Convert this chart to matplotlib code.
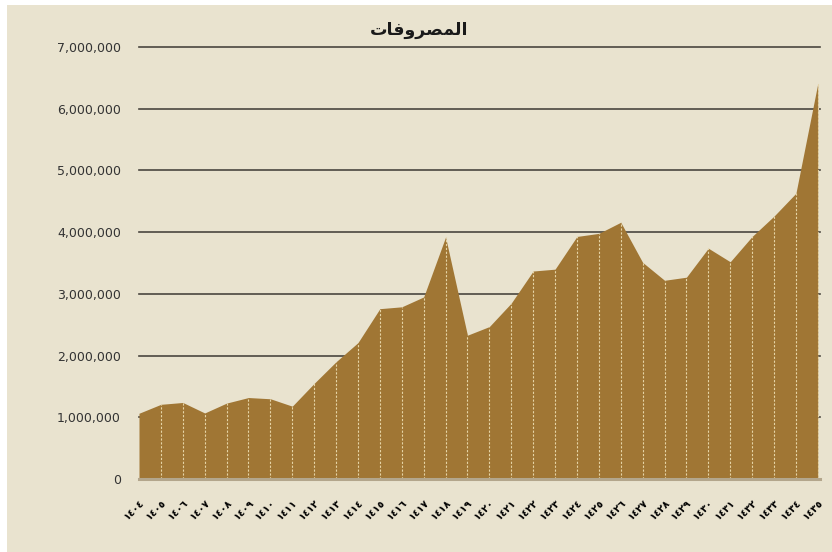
import matplotlib
matplotlib.use("Agg")
import matplotlib.pyplot as plt
from matplotlib.patches import Rectangle
from matplotlib.ticker import FuncFormatter

# years 1404..1435 (hijri), written in Arabic-Indic digits
years = list(range(1404, 1436))
year_labels = ["١٤٠٤", "١٤٠٥", "١٤٠٦", "١٤٠٧", "١٤٠٨", "١٤٠٩", "١٤١٠", "١٤١١",
               "١٤١٢", "١٤١٣", "١٤١٤", "١٤١٥", "١٤١٦", "١٤١٧", "١٤١٨", "١٤١٩",
               "١٤٢٠", "١٤٢١", "١٤٢٢", "١٤٢٣", "١٤٢٤", "١٤٢٥", "١٤٢٦", "١٤٢٧",
               "١٤٢٨", "١٤٢٩", "١٤٣٠", "١٤٣١", "١٤٣٢", "١٤٣٣", "١٤٣٤", "١٤٣٥"]
expenses = [1065000, 1210000, 1240000, 1070000, 1230000, 1320000, 1300000, 1180000,
            1550000, 1900000, 2210000, 2760000, 2790000, 2950000, 3920000, 2330000,
            2470000, 2850000, 3370000, 3400000, 3930000, 3980000, 4160000, 3510000,
            3220000, 3270000, 3740000, 3520000, 3930000, 4260000, 4630000, 6410000]
# "المصروفات" in presentation forms, visual order (matplotlib does no shaping)
title = "\uFE95\uFE8E\uFED3\uFEED\uFEAE\uFEBC\uFEE4\uFEDF\uFE8D"

bg = "#e9e3cf"
fill = "#a07634"

fig = plt.figure(figsize=(8.32, 5.52), dpi=100, facecolor="white")
fig.patches.append(Rectangle((7 / 832, 0), 1, 1 - 5 / 552, transform=fig.transFigure,
                             facecolor=bg, edgecolor="none", zorder=-10))

ax = fig.add_axes([139 / 832, 1 - 479 / 552, 681 / 832, 432 / 552])
ax.set_facecolor("none")

x = list(range(len(years)))
ax.fill_between(x, expenses, 0, color=fill, linewidth=0, zorder=2)
ax.vlines(x[1:], 0, expenses[1:], colors="#e6d4a6", linewidth=0.8,
          linestyles=(0, (2, 1.5)), zorder=3)

for v in range(1000000, 7000001, 1000000):
    ax.axhline(v, color="#4a463f", linewidth=1.2, zorder=1, clip_on=False)
ax.axhline(0, color="#b3a68c", linewidth=2.2, zorder=4, clip_on=False)

ax.set_xlim(0, 31.1)
ax.set_ylim(0, 7000000)
ax.set_yticks(range(0, 7000001, 1000000))
ax.yaxis.set_major_formatter(FuncFormatter(lambda v, p: f"{int(v):,}"))
ax.set_xticks(x)
ax.set_xticklabels(year_labels, rotation=45, ha="right", va="top",
                   rotation_mode="anchor", fontsize=7, fontweight="bold",
                   family="DejaVu Sans")
ax.tick_params(axis="y", length=0, pad=13, labelsize=9, labelcolor="#333333")
ax.tick_params(axis="x", length=0, pad=13)
for s in ax.spines.values():
    s.set_visible(False)

fig.text(419 / 832, 1 - 30 / 552, title, ha="center", va="center", fontsize=12.5,
         fontweight="bold", family="DejaVu Sans", color="#1a1a1a")

fig.savefig("out.png", dpi=100, facecolor=fig.get_facecolor())
